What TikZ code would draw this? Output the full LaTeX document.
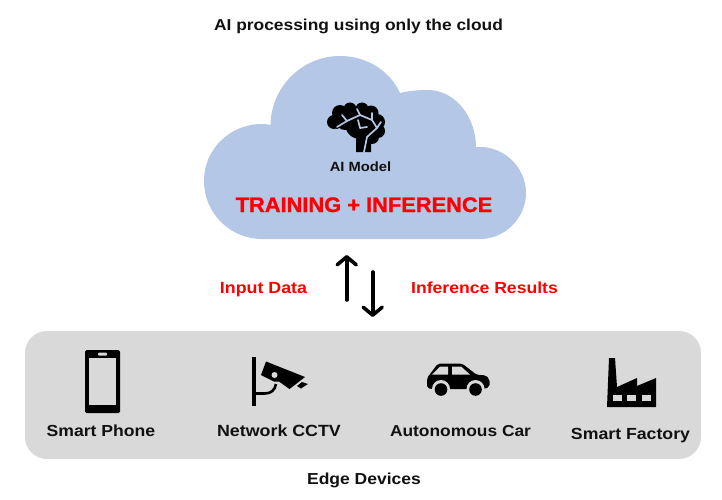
\documentclass[tikz,border=0pt]{standalone}
\usepackage{fontspec}
\setmainfont{Liberation Sans}
\newfontfamily\widefont[FakeStretch=1.1]{Liberation Sans}
\newfontfamily\heavyfont[FakeStretch=1.04,FakeBold=1.2]{Liberation Sans}
\usetikzlibrary{arrows.meta}
\definecolor{cloudblue}{HTML}{B4C7E7}
\definecolor{panelgrey}{HTML}{D9D9D9}
\definecolor{inkblack}{HTML}{111111}
\tikzset{
  lab/.style={anchor=base,inner sep=0pt,font=\widefont\bfseries\fontsize{#1}{#1}\selectfont,text=inkblack},
  redlab/.style={anchor=base,inner sep=0pt,font=\widefont\bfseries\fontsize{#1}{#1}\selectfont,text=red},
  flow/.style={line width=3.6pt,line cap=round,line join=round,-{Straight Barb[length=8pt,width=19pt,round]}},
  branch/.style={draw=cloudblue,line width=1.7pt,line cap=round,line join=round}
}
\begin{document}
\begin{tikzpicture}[x=1pt,y=-1pt]
\useasboundingbox (0,0) rectangle (722,500);
\fill[white] (0,0) rectangle (722,500);
% panel
\node[fill=panelgrey,rounded corners=22pt,minimum width=676pt,minimum height=128pt,inner sep=0pt] (panel) at (363,395) {};
% cloud
\fill[cloudblue] (262,239)
  .. controls (230,239) and (204,213) .. (204,181)
  .. controls (204,149) and (230,124) .. (262,124)
  .. controls (265,124) and (268,124.5) .. (270.5,125)
  .. controls (271,87) and (302,56) .. (340,56)
  .. controls (367,56) and (390,71) .. (400,93)
  .. controls (408,91) and (418,90) .. (428,90)
  .. controls (455,90) and (476,117) .. (476,147)
  .. controls (477,147) and (479,147) .. (480,147)
  .. controls (505,147) and (526,168) .. (526,193)
  .. controls (526,218) and (505,239) .. (480,239)
  -- cycle;
% brain
\fill[black]
  (334,122) circle (7pt) (340,113) circle (8pt) (350,109) circle (6.5pt)
  (362,109) circle (6.5pt) (371,113) circle (7.5pt) (377,122) circle (8pt)
  (378,131) circle (7pt) (372,137) circle (7pt) (360,124) circle (15pt)
  (345,121) circle (9pt) (337,124) circle (5pt);
\fill[black] (356,130) -- (356,152) -- (371,152) -- (371,138) -- cycle;
\draw[branch] (337,127) -- (347,121) -- (360,115) -- (372,120) -- (377,128) -- (367,137) -- (364,152);
\draw[branch] (347,121) -- (342,115);
\draw[branch] (360,115) -- (357,109);
\draw[branch] (372,120) -- (372,113);
\draw[branch] (358,120) -- (360,128) -- (367,127);
\draw[branch] (377,128) -- (381,122);
% phone
\fill[black,rounded corners=1.5pt] (85,350) rectangle (120,413);
\fill[panelgrey] (89,358) rectangle (116,405);
\fill[panelgrey,rounded corners=1pt] (98,352.5) rectangle (107,355.5);
% cctv
\fill[black] (251.7,357) rectangle (256,406);
\draw[black,line width=2.6pt] (255,393.5) -- (265,393.5) .. controls (271,393.5) and (275,390) .. (276,384);
\fill[black] (266,361.5) -- (305,377) -- (289.5,389) -- (279,381.5) -- (274,381.5) -- (261,375) -- cycle;
\fill[panelgrey] (274.5,375) circle (3pt);
\fill[black] (297,386) -- (302,382) -- (308,384) -- (301,388.5) -- cycle;
% car
\fill[black,rounded corners=2pt] (427,388) -- (427,378) -- (438,363.5) -- (462,363.5) -- (477,375) -- (485,375) -- (489.5,379) -- (489.5,387) -- (484,389) -- (432,389) -- cycle;
\fill[panelgrey] (432,374.5) -- (440,366.5) -- (448,366.5) -- (448,374.5) -- cycle;
\fill[panelgrey] (452,366.5) -- (461,366.5) -- (470,374.5) -- (452,374.5) -- cycle;
\fill[panelgrey] (441,389) circle (9pt);
\fill[panelgrey] (475.5,389) circle (9pt);
\fill[black] (441,389.5) circle (6.3pt);
\fill[black] (475.5,389.5) circle (6.3pt);
% factory
\fill[black] (607,407) -- (609,358) -- (615,358) -- (617,387) -- (637,378) -- (637,386) -- (656,378) -- (656,407) -- cycle;
\fill[panelgrey] (613,395) rectangle (622,401);
\fill[panelgrey] (627,395) rectangle (636,401);
\fill[panelgrey] (642,395) rectangle (651,401);
% arrows
\coordinate (upstart) at (346.7,300);
\coordinate (upend) at (346.7,255);
\coordinate (downstart) at (372.7,272);
\coordinate (downend) at (372.7,317);
\draw[flow] (upstart) -- (upend);
\draw[flow] (downstart) -- (downend);
% labels
\node[lab=15.8] (title) at (358.5,31) {AI processing using only the cloud};
\node[lab=13.4] (model) at (360.5,171) {AI Model};
\node[anchor=base,inner sep=0pt,font=\heavyfont\bfseries\fontsize{21}{21}\selectfont,text=red] (train) at (364,212) {TRAINING + INFERENCE};
\node[redlab=16.2] (input) at (263.5,293) {Input Data};
\node[redlab=16] (results) at (484.5,293) {Inference Results};
\node[lab=16] (phone) at (101,436) {Smart Phone};
\node[lab=16.2] (cctv) at (279,436) {Network CCTV};
\node[lab=15.8] (car) at (460.5,436) {Autonomous Car};
\node[lab=16.1] (factory) at (630.5,439) {Smart Factory};
\node[lab=15.9] (edge) at (364,484) {Edge Devices};
\end{tikzpicture}
\end{document}
